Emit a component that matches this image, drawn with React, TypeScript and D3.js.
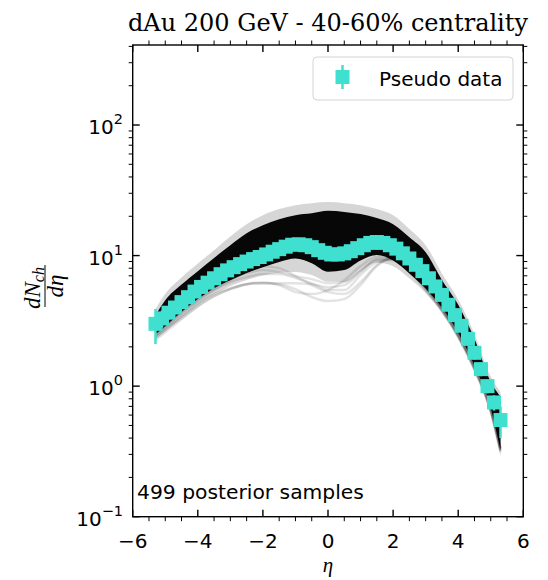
import React from 'react';
import * as d3 from 'd3';

// Pseudo data (eta, dN/deta, error)
const etaData = [
  -5.3, -5.1, -4.9, -4.7, -4.5, -4.3, -4.1, -3.9, -3.7, -3.5, -3.3, -3.1, -2.9, -2.7,
  -2.5, -2.3, -2.1, -1.9, -1.7, -1.5, -1.3, -1.1, -0.9, -0.7, -0.5, -0.3, -0.1,
  0.1, 0.3, 0.5, 0.7, 0.9, 1.1, 1.3, 1.5, 1.7, 1.9, 2.1, 2.3, 2.5, 2.7, 2.9,
  3.1, 3.3, 3.5, 3.7, 3.9, 4.1, 4.3, 4.5, 4.7, 4.9, 5.1, 5.3,
];
const dNdEtaData = [
  3.0, 3.3, 3.65, 4.0, 4.4, 4.8, 5.3, 5.75, 6.2, 6.7, 7.2, 7.7, 8.15, 8.6,
  9.0, 9.4, 9.75, 10.2, 10.7, 11.2, 11.7, 12.1, 12.2, 12.0, 11.6, 11.0, 10.5,
  10.2, 10.2, 10.4, 10.8, 11.4, 12.0, 12.5, 12.7, 12.5, 12.0, 11.3, 10.4, 9.5, 8.5, 7.6,
  6.7, 5.8, 5.0, 4.2, 3.5, 2.9, 2.3, 1.8, 1.35, 1.0, 0.75, 0.55,
];
const dNdEtaErr = [
  0.9, 0.5, 0.4, 0.4, 0.4, 0.45, 0.45, 0.5, 0.5, 0.55, 0.6, 0.6, 0.65, 0.7,
  0.7, 0.75, 0.75, 0.8, 0.8, 0.85, 0.9, 0.9, 0.9, 0.9, 0.9, 0.85, 0.8,
  0.8, 0.8, 0.8, 0.8, 0.8, 0.85, 0.9, 0.95, 0.95, 0.95, 0.9, 0.85, 0.8, 0.75, 0.65, 0.6,
  0.5, 0.45, 0.4, 0.35, 0.3, 0.25, 0.2, 0.16, 0.12, 0.1, 0.15, 0.27,
].slice(0, 54);

// Posterior sample band
const bandEta = [-5.3, -5, -4.5, -4, -3.5, -3, -2.5, -2, -1.5, -1, -0.5, 0, 0.5, 1, 1.5, 2, 2.5, 3, 3.5, 4, 4.5, 5, 5.3];
const bandFringeHigh = [3.9, 5.1, 6.8, 8.7, 11.0, 14.0, 17.4, 20.4, 22.7, 24.3, 25.2, 25.7, 25.2, 24.3, 22.7, 20.4, 16.0, 12.0, 7.3, 4.6, 2.5, 1.18, 0.9];
const bandCoreHigh = [3.5, 4.55, 6.0, 7.6, 9.6, 12.0, 14.8, 17.1, 19.0, 20.4, 21.1, 22.0, 21.6, 20.8, 19.4, 17.4, 13.8, 10.6, 6.5, 4.2, 2.3, 1.08, 0.83];
const bandCoreLow = [2.5, 2.88, 3.69, 4.64, 5.63, 6.48, 7.34, 8.15, 8.91, 9.48, 8.75, 7.53, 7.74, 9.16, 10.1, 9.16, 7.3, 5.59, 3.98, 2.55, 1.43, 0.68, 0.32];
const bandFringeLow = [2.3, 2.62, 3.35, 4.2, 5.05, 5.85, 6.5, 7.05, 7.4, 7.5, 7.1, 6.3, 6.3, 7.6, 8.8, 8.3, 6.7, 5.15, 3.65, 2.3, 1.28, 0.6, 0.29];

// Individually visible outlier samples
const sampleOutlier1 = [2.42, 2.78, 3.44, 4.32, 5.07, 5.63, 6.04, 6.15, 6.04, 5.53, 4.81, 4.48, 4.64, 5.94, 8.3, 9.56, 8.01, 5.83, 3.96, 2.5, 1.42, 0.68, 0.335];
const sampleOutlier2 = [2.33, 2.69, 3.32, 4.1, 4.89, 5.53, 6.04, 6.26, 5.94, 5.25, 5.07, 5.44, 6.48, 8.3, 9.73, 9.73, 7.87, 5.73, 3.89, 2.46, 1.37, 0.65, 0.32];
const sampleOutlier3 = [2.25, 2.59, 3.26, 4.1, 4.89, 5.53, 6.04, 6.15, 6.15, 6.15, 6.04, 5.73, 5.94, 7.47, 9.23, 9.23, 7.47, 5.44, 3.75, 2.37, 1.33, 0.63, 0.31];
const sampleOutlier4 = [2.5, 2.88, 3.69, 4.56, 5.44, 6.26, 6.84, 7.21, 7.21, 6.72, 6.15, 5.44, 5.44, 7.08, 8.91, 9.39, 7.74, 5.53, 3.82, 2.42, 1.37, 0.65, 0.32];
const sampleOutlier5 = [2.55, 2.98, 3.82, 4.81, 5.73, 6.6, 7.34, 7.74, 7.47, 6.96, 6.6, 6.15, 6.26, 7.6, 9.39, 9.56, 7.74, 5.63, 3.89, 2.46, 1.4, 0.67, 0.33];
const sampleOutlier6 = [2.42, 2.83, 3.62, 4.56, 5.53, 6.48, 7.47, 8.3, 8.01, 6.96, 5.94, 5.25, 5.07, 6.26, 8.45, 9.56, 8.01, 5.83, 3.96, 2.5, 1.42, 0.68, 0.335];
const outlierSamples = [sampleOutlier1, sampleOutlier2, sampleOutlier3, sampleOutlier4, sampleOutlier5, sampleOutlier6];

const yMajorTicks = [0.1, 1, 10, 100];
const yTickExponents = ['\u22121', '0', '1', '2'];

const W = 548;
const H = 580;
const L = 132.7, R = 523.3, T = 45, B = 516.7;
const CYAN = '#40E0D0';
const SANS = '"DejaVu Sans", sans-serif';

export default function App() {
  const x = d3.scaleLinear().domain([-6, 6]).range([L, R]);
  const y = d3.scaleLog().domain([0.1, 410]).range([B, T]);

  const area = (lo: number[], hi: number[]) =>
    d3.area<number>()
      .x((d) => x(d))
      .y0((_, i) => y(lo[i]))
      .y1((_, i) => y(hi[i]))
      .curve(d3.curveMonotoneX)(bandEta) || '';
  const line = (vals: number[]) =>
    d3.line<number>().x((d) => x(d)).y((_, i) => y(vals[i])).curve(d3.curveMonotoneX)(bandEta) || '';

  const xMajor = x.ticks(6);
  const xMinor = d3.range(-6, 6.001, 0.5).filter((v) => !xMajor.some((m) => Math.abs(m - v) < 1e-9));
  const yMinor: number[] = [];
  for (let k = -1; k <= 2; k++) for (let m = 2; m <= 9; m++) {
    const v = m * Math.pow(10, k);
    if (v > 0.1 && v < 410) yMinor.push(v);
  }
  const fmt = (v: number) => (v < 0 ? '\u2212' + Math.abs(v) : String(v));
  const ms = 14;

  return (
    <svg width={W} height={H} style={{ position: 'absolute', left: 0, top: 0, background: '#fff' }}>
      {/* posterior band */}
      <path d={area(bandFringeLow, bandFringeHigh)} fill="#000" fillOpacity={0.16} />
      {outlierSamples.map((s, i) => (
        <path key={i} d={line(s)} fill="none" stroke="#000" strokeOpacity={0.11} strokeWidth={2.5} />
      ))}
      <path d={area(bandCoreLow, bandCoreHigh)} fill="#000" fillOpacity={0.97} />

      {/* pseudo data */}
      {etaData.map((e, i) => (
        <line key={'e' + i} x1={x(e)} x2={x(e)} y1={y(dNdEtaData[i] - dNdEtaErr[i])} y2={y(dNdEtaData[i] + dNdEtaErr[i])}
          stroke={CYAN} strokeWidth={2.5} />
      ))}
      {etaData.map((e, i) => (
        <rect key={'m' + i} x={x(e) - ms / 2} y={y(dNdEtaData[i]) - ms / 2} width={ms} height={ms} fill={CYAN} />
      ))}

      {/* frame */}
      <rect x={L} y={T} width={R - L} height={B - T} fill="none" stroke="#000" strokeWidth={1.4} />
      {xMajor.map((t) => (
        <g key={'xm' + t}>
          <line x1={x(t)} x2={x(t)} y1={B} y2={B - 7} stroke="#000" strokeWidth={1.4} />
          <line x1={x(t)} x2={x(t)} y1={T} y2={T + 7} stroke="#000" strokeWidth={1.4} />
          <text x={x(t)} y={548} textAnchor="middle" fontFamily={SANS} fontSize={20}>{fmt(t)}</text>
        </g>
      ))}
      {xMinor.map((t) => (
        <g key={'xn' + t}>
          <line x1={x(t)} x2={x(t)} y1={B} y2={B + 4.5} stroke="#000" strokeWidth={1} />
          <line x1={x(t)} x2={x(t)} y1={T} y2={T - 4.5} stroke="#000" strokeWidth={1} />
        </g>
      ))}
      {yMajorTicks.map((t, i) => (
        <g key={'ym' + t}>
          <line x1={L} x2={L + 7} y1={y(t)} y2={y(t)} stroke="#000" strokeWidth={1.4} />
          <line x1={R} x2={R - 7} y1={y(t)} y2={y(t)} stroke="#000" strokeWidth={1.4} />
          <text x={123} y={y(t) + 9} textAnchor="end" fontFamily={SANS} fontSize={20}>
            10<tspan dy={-10} fontSize={14.5}>{yTickExponents[i]}</tspan>
          </text>
        </g>
      ))}
      {yMinor.map((t) => (
        <g key={'yn' + t}>
          <line x1={L} x2={L - 4} y1={y(t)} y2={y(t)} stroke="#000" strokeWidth={1} />
          <line x1={R} x2={R + 4} y1={y(t)} y2={y(t)} stroke="#000" strokeWidth={1} />
        </g>
      ))}

      {/* legend */}
      <rect x={313} y={57} width={200} height={43} rx={4} fill="#fff" fillOpacity={0.8} stroke="#d4d4d4" strokeWidth={1} />
      <line x1={342.5} x2={342.5} y1={65} y2={89} stroke={CYAN} strokeWidth={2.5} />
      <rect x={342.5 - ms / 2} y={77 - ms / 2} width={ms} height={ms} fill={CYAN} />
      <text x={379} y={86} fontFamily={SANS} fontSize={20}>Pseudo data</text>

      {/* annotation */}
      <text x={137} y={499} fontFamily={SANS} fontSize={20.3}>499 posterior samples</text>

      {/* title */}
      <text x={328} y={31} textAnchor="middle" fontFamily='"DejaVu Serif", serif' fontSize={24}>dAu 200 GeV - 40-60% centrality</text>

      {/* axis labels */}
      <text x={328} y={572} textAnchor="middle" fontFamily='"Liberation Serif", serif' fontStyle="italic" fontSize={21}>η</text>
      <g transform="translate(45,286) rotate(-90)" fontFamily='"Liberation Serif", serif' fontStyle="italic">
        <text x={-2} y={-5} textAnchor="middle" fontSize={23}>dN<tspan dy={4} fontSize={16}>ch</tspan></text>
        <line x1={-21} x2={21} y1={0} y2={0} stroke="#000" strokeWidth={1} />
        <text x={0} y={18} textAnchor="middle" fontSize={23}>dη</text>
      </g>
    </svg>
  );
}
